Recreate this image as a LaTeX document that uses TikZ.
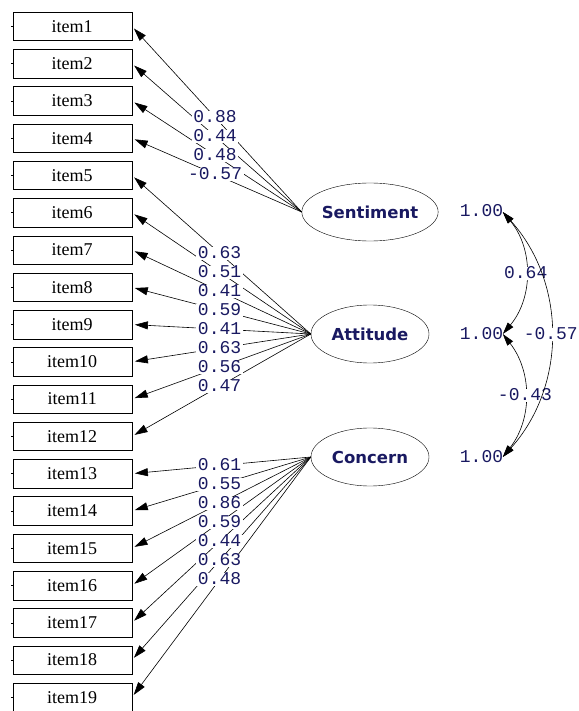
\documentclass[tikz,border=0pt]{standalone}
\usepackage{fontspec}
\setmainfont{Liberation Serif}
\newfontfamily\loadfont{Liberation Mono}
\newfontfamily\latentfont{DejaVu Sans}
\usetikzlibrary{arrows.meta,shapes.geometric}
\definecolor{loadblue}{rgb}{0.1,0.1,0.38}
\tikzset{
	itembox/.style={draw, thin, inner sep=0pt, minimum width=119pt, minimum height=28.5pt,
		font=\fontsize{18}{18}\selectfont},
	latent/.style={draw, thin, ellipse, inner sep=0pt, minimum width=118pt, minimum height=58pt,
		text=loadblue, font=\latentfont\bfseries\fontsize{16.5}{16.5}\selectfont},
	loading/.style={fill=white, inner sep=1.5pt, text height=10pt, text depth=0pt,
		text=loadblue, font=\loadfont\fontsize{18}{18}\selectfont},
	loadline/.style={-{Triangle[length=13pt,width=8pt]}, shorten >=3pt, line width=0.6pt},
	covline/.style={{Triangle[length=12pt,width=7pt]}-{Triangle[length=12pt,width=7pt]}, line width=0.6pt}
}
\begin{document}
\begin{tikzpicture}[x=1pt, y=-1pt]
\useasboundingbox (0,0) rectangle (578,711);

\foreach \i in {1,...,19} {
	\node[itembox] (item\i) at (72.2, {26.3+37.28*(\i-1)}) {item\i};
	\draw (item\i.west) -- ++(-2,0);
}

\node[latent] (sent) at (370,212) {Sentiment};
\node[latent] (att) at (370,334) {Attitude};
\node[latent] (conc) at (370,457) {Concern};

\foreach \i in {1,...,4}
	\draw[loadline] (sent.west) -- (item\i.east);
\foreach \i in {5,...,12}
	\draw[loadline] (att.west) -- (item\i.east);
\foreach \i in {13,...,19}
	\draw[loadline] (conc.west) -- (item\i.east);

\foreach \i/\v in {1/0.88, 2/0.44, 3/0.48, 4/-0.57}
	\path (sent.west) -- node[loading, pos=0.51] {\v} (item\i.east);
\foreach \i/\v in {5/0.63, 6/0.51, 7/0.41, 8/0.59, 9/0.41, 10/0.63, 11/0.56, 12/0.47}
	\path (att.west) -- node[loading, pos=0.51] {\v} (item\i.east);
\foreach \i/\v in {13/0.61, 14/0.55, 15/0.86, 16/0.59, 17/0.44, 18/0.63, 19/0.48}
	\path (conc.west) -- node[loading, pos=0.51] {\v} (item\i.east);

% variances and covariances
\node[loading, fill=none] (vsent) at (481.5,212) {1.00};
\node[loading, fill=none] (vatt) at (481.5,334) {1.00};
\node[loading, fill=none] (vconc) at (481.5,457) {1.00};
\coordinate (csent) at ([xshift=-2pt]vsent.east);
\coordinate (catt) at ([xshift=-2pt]vatt.east);
\coordinate (cconc) at ([xshift=-2pt]vconc.east);

\draw[covline] (csent) to[bend left=40] node[loading] {0.64} (catt);
\draw[covline] (catt) to[bend left=38] node[loading] {-0.43} (cconc);
\draw[covline] (csent) to[bend left=42] node[loading] {-0.57} (cconc);
\end{tikzpicture}
\end{document}
